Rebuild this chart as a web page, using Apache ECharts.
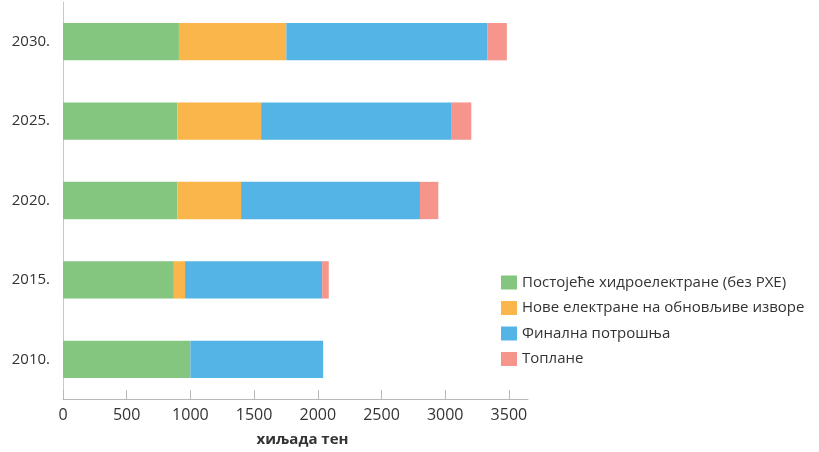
<!DOCTYPE html>
<html>
<head>
<meta charset="utf-8">
<script src="https://cdn.jsdelivr.net/npm/echarts@6/dist/echarts.min.js"></script>
<style>
  html, body { margin: 0; padding: 0; background: #fff; }
  #chart { width: 819px; height: 452px; }
</style>
</head>
<body>
<div id="chart"></div>
<script>
// Years, top to bottom as drawn (ECharts category axis runs bottom-up)
const years = ['2010.', '2015.', '2020.', '2025.', '2030.'];

// Contributions in thousand toe, stacked left to right
const existingHydro = [1000, 870, 898, 898, 910];
const newRenewables = [0, 88, 500, 657, 843];
const finalConsumption = [1042, 1076, 1404, 1491, 1577];
const heatingPlants = [0, 52, 144, 159, 154];

const seriesNames = [
  'Постојеће хидроелектране (без РХЕ)',
  'Нове електране на обновљиве изворе',
  'Финална потрошња',
  'Топлане'
];
const seriesData = [existingHydro, newRenewables, finalConsumption, heatingPlants];
const colors = ['#84c680', '#fbb64b', '#53b4e5', '#f5958b'];

const font = '"Open Sans", "Noto Sans", sans-serif';

const chart = echarts.init(document.getElementById('chart'), null, { renderer: 'canvas' });

chart.setOption({
  animation: false,
  textStyle: { fontFamily: font },
  grid: { left: 63, top: 2, width: 465, height: 401, containLabel: false },
  legend: {
    orient: 'vertical',
    left: 496,
    top: 270,
    itemWidth: 16,
    itemHeight: 14,
    itemGap: 10.5,
    icon: 'rect',
    textStyle: { fontFamily: font, fontSize: 15, lineHeight: 14, color: '#333' },
    data: seriesNames
  },
  xAxis: {
    type: 'value',
    min: 0,
    max: 3650,
    interval: 500,
    name: 'хиљада тен',
    nameLocation: 'middle',
    nameGap: 33,
    nameTextStyle: { fontFamily: font, fontSize: 15, fontWeight: 'bold', color: '#333', padding: [0, 0, 0, 14] },
    axisLine: { show: true, lineStyle: { color: '#b8b8b8', width: 1 } },
    axisTick: { show: true, inside: true, length: 9, lineStyle: { color: '#b8b8b8' } },
    axisLabel: {
      fontFamily: font, fontSize: 16, color: '#333', margin: 8, showMaxLabel: false,
      formatter: (v) => String(v)
    },
    splitLine: { show: false }
  },
  yAxis: {
    type: 'category',
    data: years,
    axisLine: { show: true, lineStyle: { color: '#c8c8c8', width: 1 } },
    axisTick: { show: false },
    axisLabel: { fontFamily: font, fontSize: 15, color: '#333', margin: 13 }
  },
  series: seriesNames.map((name, i) => ({
    name: name,
    type: 'bar',
    stack: 'total',
    barWidth: '47%',
    data: seriesData[i],
    itemStyle: { color: colors[i] }
  }))
});
</script>
</body>
</html>
